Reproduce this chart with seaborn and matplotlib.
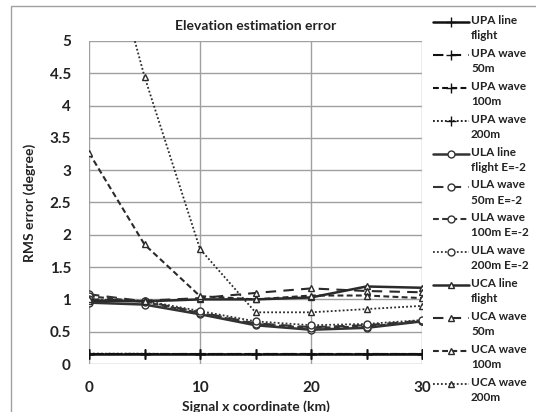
import matplotlib
matplotlib.use("Agg")
import matplotlib.pyplot as plt
import seaborn as sns
import pandas as pd
from matplotlib.patches import Rectangle
from matplotlib.lines import Line2D

sns.set_theme(style="white")
plt.rcParams['font.family'] = ['Lato', 'DejaVu Sans']

x_km = [0, 5, 10, 15, 20, 25, 30]

upa_line = [0.15, 0.15, 0.15, 0.15, 0.15, 0.15, 0.15]
upa_50 = [0.15, 0.15, 0.15, 0.15, 0.15, 0.15, 0.15]
upa_100 = [0.15, 0.15, 0.15, 0.15, 0.15, 0.15, 0.15]
upa_200 = [0.16, 0.16, 0.15, 0.15, 0.15, 0.15, 0.15]
ula_line = [0.95, 0.92, 0.77, 0.60, 0.53, 0.56, 0.66]
ula_50 = [1.08, 0.97, 0.80, 0.63, 0.57, 0.60, 0.67]
ula_100 = [1.05, 0.96, 0.79, 0.62, 0.56, 0.58, 0.66]
ula_200 = [1.00, 0.98, 0.82, 0.66, 0.60, 0.62, 0.68]
uca_line = [0.98, 0.97, 1.00, 1.00, 1.03, 1.20, 1.18]
uca_50 = [1.00, 0.98, 1.02, 1.10, 1.17, 1.13, 1.11]
uca_100 = [3.27, 1.85, 1.05, 1.00, 1.06, 1.06, 1.02]
uca_200 = [7.6, 4.45, 1.78, 0.80, 0.80, 0.85, 0.90]

labels = ["UPA line\nflight", "UPA wave\n50m", "UPA wave\n100m", "UPA wave\n200m",
          "ULA line\nflight E=-2", "ULA wave\n50m E=-2", "ULA wave\n100m E=-2", "ULA wave\n200m E=-2",
          "UCA line\nflight", "UCA wave\n50m", "UCA wave\n100m", "UCA wave\n200m"]
series = [upa_line, upa_50, upa_100, upa_200, ula_line, ula_50, ula_100, ula_200,
          uca_line, uca_50, uca_100, uca_200]

styles = [
    dict(lw=1.8, dash=None),
    dict(lw=1.5, dash=(5, 3.5)),
    dict(lw=1.5, dash=(2.8, 1.6)),
    dict(lw=1.3, dash=(1, 1.2)),
]
markers = ['+', '+', '+', '+', 'o', 'o', 'o', 'o', '^', '^', '^', '^']
colors = ['#111111'] * 4 + ['#333333'] * 4 + ['#2a2a2a'] * 4

W, H = 536, 412
fig = plt.figure(figsize=(W/100, H/100), dpi=100)
ax = fig.add_axes([89/W, 1-364/H, (422-89)/W, (364-41)/H])

fig.patches.append(Rectangle((11/W, -0.1), 2.0, 1.1 - 6/H, transform=fig.transFigure,
                             fill=False, edgecolor='#a0a0a0', lw=1.0))

for i, (lab, ys) in enumerate(zip(labels, series)):
    st = styles[i % 4]
    mk = markers[i]
    ms = 7 if mk == '+' else 5
    mfc = colors[i] if mk == '+' else 'white'
    df = pd.DataFrame({'x': x_km, 'y': ys})
    sns.lineplot(data=df, x='x', y='y', ax=ax, color=colors[i], lw=st['lw'],
                 marker=mk, markersize=ms, markerfacecolor=mfc,
                 markeredgecolor=colors[i], markeredgewidth=1.0, legend=False)
    line = ax.lines[-1]
    if st['dash'] is not None:
        line.set_dashes(st['dash'])

    # legend entry (drawn manually so the sample aligns with the first text line)
    yc = 22 + i * 32.9
    h = Line2D([433/W, 469/W], [1 - yc/H, 1 - yc/H], transform=fig.transFigure,
               color=colors[i], lw=st['lw'])
    if st['dash'] is not None:
        h.set_dashes(st['dash'])
    fig.add_artist(h)
    m = Line2D([451/W], [1 - yc/H], transform=fig.transFigure, ls='none',
               marker=mk, markersize=ms, markerfacecolor=mfc,
               markeredgecolor=colors[i], markeredgewidth=1.0)
    fig.add_artist(m)
    fig.text(471/W, 1 - (yc - 7)/H, lab, ha='left', va='top', fontsize=8.5,
             fontweight='bold', color='#222222', linespacing=1.45)

ax.set_xlim(0, 30)
ax.set_ylim(0, 5)
ax.set_xticks([0, 10, 20, 30])
ax.set_yticks([0, 0.5, 1, 1.5, 2, 2.5, 3, 3.5, 4, 4.5, 5])
ax.set_yticklabels(['0', '0.5', '1', '1.5', '2', '2.5', '3', '3.5', '4', '4.5', '5'])
ax.grid(True, color='#a0a0a0', lw=1.0)
ax.set_axisbelow(True)
for s in ax.spines.values():
    s.set_visible(False)
ax.tick_params(axis='x', length=0, labelsize=11, colors='#222222', pad=12)
ax.tick_params(axis='y', length=0, labelsize=11, colors='#222222', pad=13)
for t in ax.get_xticklabels() + ax.get_yticklabels():
    t.set_fontweight('bold')
ax.set_xlabel('Signal x coordinate (km)', fontsize=10, fontweight='bold', color='#222222', labelpad=4)
ax.set_ylabel('RMS error (degree)', fontsize=10, fontweight='bold', color='#222222', labelpad=10)
ax.set_title('Elevation estimation error', fontsize=10, fontweight='bold', color='#222222', pad=8)

fig.savefig('out.png', dpi=100)
